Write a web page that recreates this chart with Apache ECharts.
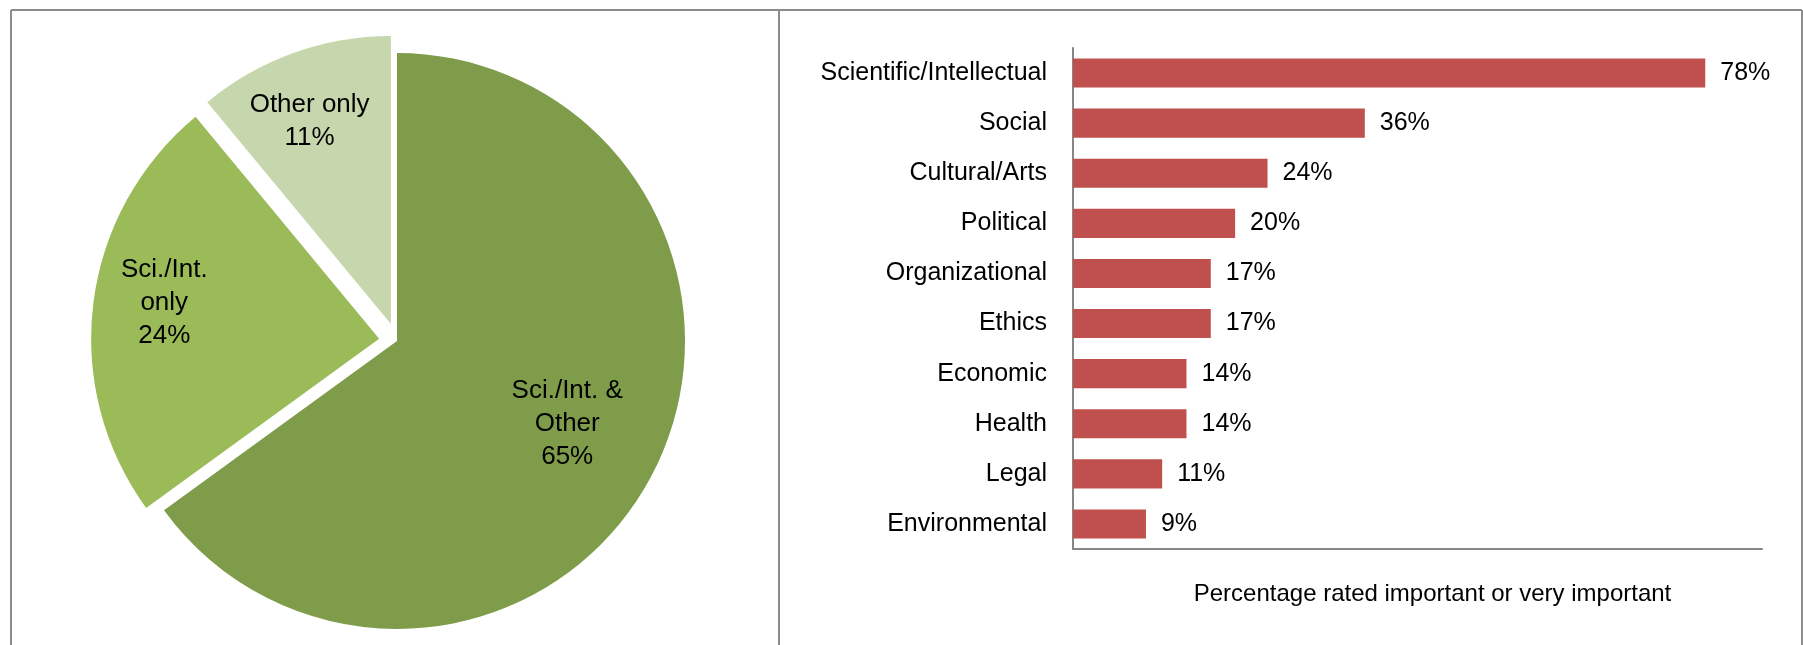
<!DOCTYPE html>
<html>
<head>
<meta charset="utf-8">
<style>
  html, body { margin: 0; padding: 0; background: #ffffff; }
  #chart { width: 1803px; height: 645px; }
</style>
<script src="https://cdn.jsdelivr.net/npm/echarts@6/dist/echarts.min.js"></script>
</head>
<body>
<div id="chart"></div>
<script>
// Share of respondents by type of value considered
const pieNames = ['Sci./Int. &\nOther', 'Sci./Int.\nonly', 'Other only'];
const pieValues = [65, 24, 11];
const pieColors = ['#7f9c4b', '#9bbb59', '#c6d7ad'];

// Percentage rating each value important or very important
const barCategories = [
  'Scientific/Intellectual', 'Social', 'Cultural/Arts', 'Political', 'Organizational',
  'Ethics', 'Economic', 'Health', 'Legal', 'Environmental'
];
const barValues = [78, 36, 24, 20, 17, 17, 14, 14, 11, 9];
const barAxisTitle = 'Percentage rated important or very important';

const FONT = "'Liberation Sans Narrow', 'Arial Narrow', 'Liberation Sans', Arial, sans-serif";
const FRAME = '#8c8c8c';
const AXIS = '#868686';

const pieCenter = [397, 341];
const labelCenter = [385, 331];
const pieRadius = 288;
const explode = 18;

const pieData = pieNames.map((name, i) => ({
  name: name,
  value: pieValues[i],
  selected: i > 0,
  itemStyle: { color: pieColors[i] },
  select: { itemStyle: { color: pieColors[i] } }
}));

const labelData = pieNames.map((name, i) => ({
  name: name,
  value: pieValues[i],
  selected: i > 0
}));

const chart = echarts.init(document.getElementById('chart'), null, { renderer: 'canvas' });

chart.setOption({
  animation: false,
  textStyle: { fontFamily: FONT },
  graphic: [
    // panel frame and divider
    { type: 'line', shape: { x1: 11, y1: 10, x2: 1802, y2: 10 }, style: { stroke: FRAME, lineWidth: 2 }, silent: true },
    { type: 'line', shape: { x1: 11, y1: 10, x2: 11, y2: 645 }, style: { stroke: FRAME, lineWidth: 2 }, silent: true },
    { type: 'line', shape: { x1: 779, y1: 10, x2: 779, y2: 645 }, style: { stroke: FRAME, lineWidth: 2 }, silent: true },
    { type: 'line', shape: { x1: 1802, y1: 10, x2: 1802, y2: 645 }, style: { stroke: FRAME, lineWidth: 2 }, silent: true }
  ],
  grid: { left: 1073, right: 41, top: 48, bottom: 96, containLabel: false },
  xAxis: {
    type: 'value',
    min: 0,
    max: 85,
    axisLine: { show: true, lineStyle: { color: AXIS, width: 2 } },
    axisTick: { show: false },
    axisLabel: { show: false },
    splitLine: { show: false },
    name: barAxisTitle,
    nameLocation: 'middle',
    nameGap: 33,
    nameTextStyle: { color: '#000', fontSize: 24, fontFamily: FONT, padding: [0, 0, 0, 30] }
  },
  yAxis: {
    type: 'category',
    inverse: true,
    data: barCategories,
    axisLine: { show: true, lineStyle: { color: AXIS, width: 2 } },
    axisTick: { show: false },
    axisLabel: { color: '#000', fontSize: 25, fontFamily: FONT, margin: 26 },
    splitLine: { show: false }
  },
  series: [
    {
      type: 'pie',
      center: pieCenter,
      radius: pieRadius,
      startAngle: 90,
      clockwise: true,
      selectedMode: 'multiple',
      selectedOffset: explode,
      silent: true,
      label: { show: false },
      labelLine: { show: false },
      itemStyle: { borderWidth: 0 },
      data: pieData
    },
    {
      // transparent ring that carries the slice labels
      type: 'pie',
      center: labelCenter,
      radius: [Math.round(pieRadius * 0.4), pieRadius],
      startAngle: 90,
      clockwise: true,
      selectedMode: 'multiple',
      selectedOffset: explode,
      silent: true,
      itemStyle: { color: 'rgba(0,0,0,0)', borderWidth: 0 },
      select: { itemStyle: { color: 'rgba(0,0,0,0)' } },
      labelLine: { show: false },
      label: {
        show: true,
        position: 'inside',
        color: '#000',
        fontSize: 26,
        lineHeight: 33,
        fontFamily: FONT,
        align: 'center',
        formatter: p => p.name + '\n' + p.value + '%'
      },
      data: labelData
    },
    {
      type: 'bar',
      data: barValues,
      barCategoryGap: '42%',
      itemStyle: { color: '#c0504d' },
      label: {
        show: true,
        position: 'right',
        distance: 15,
        color: '#000',
        fontSize: 25,
        fontFamily: FONT,
        formatter: p => p.value + '%'
      },
      silent: true
    }
  ]
});
</script>
</body>
</html>
